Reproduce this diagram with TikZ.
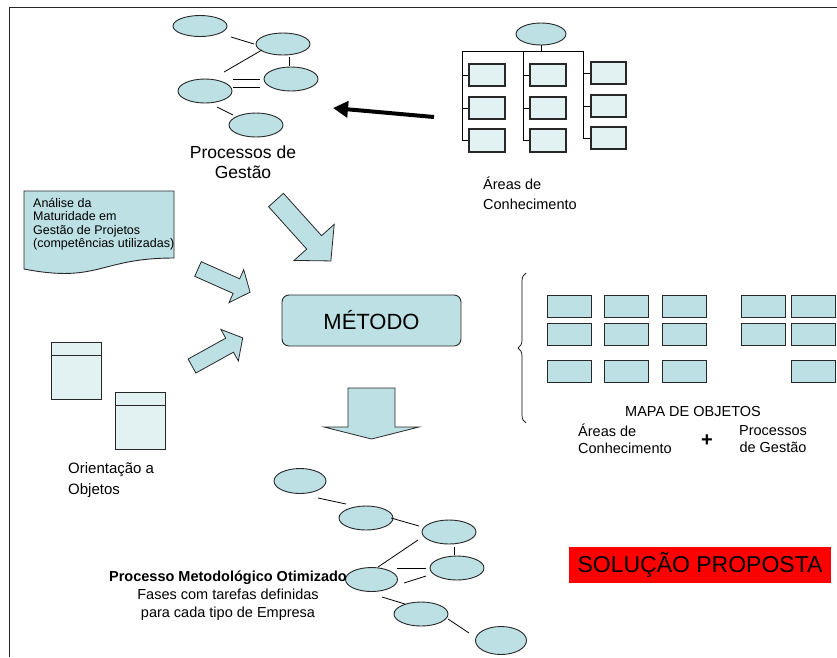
\documentclass[tikz,border=0pt]{standalone}
\usepackage{fontspec}
\setmainfont{Liberation Sans}
\usetikzlibrary{arrows.meta,calc,shapes.geometric,decorations.pathreplacing}
\definecolor{aqua}{RGB}{188,224,228}
\definecolor{pale}{RGB}{226,242,243}
\definecolor{edge}{RGB}{40,40,40}
\newcommand{\fs}[2]{\fontsize{#1}{#2}\selectfont}
% block arrow: x, y, angle, length, shaft half width, head half width, head length
\newcommand{\blockarrow}[7]{%
  \begin{scope}[shift={(#1,#2)}, rotate=#3]
    \draw[barrow] (0,-#5) -- ({#4-#7},-#5) -- ({#4-#7},-#6) -- (#4,0)
      -- ({#4-#7},#6) -- ({#4-#7},#5) -- (0,#5) -- cycle;
  \end{scope}}
\begin{document}
\begin{tikzpicture}[x=1pt,y=-1pt,
  bubble/.style={ellipse, draw=edge, line width=0.9pt, fill=aqua,
    minimum width=54pt, minimum height=24pt, inner sep=0pt},
  kbox/.style={rectangle, draw=edge, line width=1.2pt, fill=pale,
    minimum width=36pt, minimum height=22pt, inner sep=0pt},
  mbox/.style={rectangle, draw=edge, line width=0.9pt, fill=aqua,
    minimum width=44pt, minimum height=22pt, inner sep=0pt},
  classbox/.style={rectangle, draw=edge, line width=0.9pt, fill=pale,
    minimum width=50pt, minimum height=57pt, inner sep=0pt},
  link/.style={draw=black, line width=0.8pt},
  orgline/.style={draw=black, line width=0.9pt},
  barrow/.style={draw=edge, line width=0.8pt, fill=aqua, line join=miter},
  lbl/.style={inner sep=0pt, text=black},
]
\useasboundingbox (0,0) rectangle (837,657);

% page frame
\draw[line width=1.4pt, black!85] (9.5,657) -- (9.5,7.5) -- (837,7.5);

% management processes (top)
\node[bubble, minimum height=21pt] (pa) at (200,26) {};
\node[bubble, minimum height=22pt] (pb) at (283,44) {};
\node[bubble] (pc) at (291,79) {};
\node[bubble] (pd) at (205,91) {};
\node[bubble] (pe) at (256,125) {};
\draw[link] (231,37) -- (254,44);
\draw[link] (262,50) -- (224,72);
\draw[link] (289,57) -- (289,66);
\draw[link] (233,79) -- (260,79);
\draw[link] (233,87) -- (260,87);
\draw[link] (217,107) -- (233,115);
\node[lbl, align=center, font=\fs{17.5}{20}] (pglbl) at (243,162) {Processos de\\Gestão};

% knowledge areas tree
\node[bubble, minimum width=50pt, minimum height=22pt] (ka) at (541,34) {};
\node[kbox] (k11) at (487,75) {};
\node[kbox] (k12) at (487,108) {};
\node[kbox, minimum height=23pt] (k13) at (487,140.5) {};
\node[kbox] (k21) at (548,75) {};
\node[kbox] (k22) at (548,108) {};
\node[kbox, minimum height=23pt] (k23) at (548,140.5) {};
\node[kbox, minimum width=35pt] (k31) at (608.5,73) {};
\node[kbox, minimum width=35pt] (k32) at (608.5,106) {};
\node[kbox, minimum width=35pt] (k33) at (608.5,138) {};
\coordinate (c1) at (462,51);
\coordinate (c2) at (523,51);
\coordinate (c3) at (583,51);
\draw[orgline] (ka.south) -- (ka.south |- c1);
\draw[orgline] (c1) -- (c3);
\draw[orgline] (c1) |- (k13.west);
\draw[orgline] (c2) |- (k23.west);
\draw[orgline] (c3) |- (k33.west);
\draw[orgline] (k11.west) -- (k11.west -| c1);
\draw[orgline] (k12.west) -- (k12.west -| c1);
\draw[orgline] (k21.west) -- (k21.west -| c2);
\draw[orgline] (k22.west) -- (k22.west -| c2);
\draw[orgline] (k31.west) -- (k31.west -| c3);
\draw[orgline] (k32.west) -- (k32.west -| c3);
\node[lbl, align=left, anchor=west, font=\fs{14.5}{20}] (aclbl) at (483,193) {Áreas de\\Conhecimento};

% black arrow from the tree to the processes
\coordinate (bt) at (434,117);
\coordinate (bh) at (333,108);
\draw[line width=4pt, -{Triangle[length=15pt,width=16pt]}] (bt) -- (bh);

% maturity analysis document
\draw[fill=aqua, draw=edge, line width=0.9pt] (24,191) -- (174,191) -- (174,258)
  .. controls (99,258) and (99,283.5) .. (24,269) -- cycle;
\node[lbl, align=left, anchor=west, font=\fs{12.5}{13.5}] (anl) at (33,224)
  {Análise da\\Maturidade em\\Gestão de Projetos\\(competências utilizadas)};

% object orientation
\node[classbox] (oo1) at (76,370.5) {};
\draw[line width=0.9pt, edge] ($(oo1.north west)+(0,14)$) -- ($(oo1.north east)+(0,14)$);
\node[classbox] (oo2) at (140,420.5) {};
\draw[line width=0.9pt, edge] ($(oo2.north west)+(0,14)$) -- ($(oo2.north east)+(0,14)$);
\node[lbl, align=left, anchor=west, font=\fs{15}{21}] (oolbl) at (68,480.5) {Orientação a\\Objetos};

% block arrows into and out of the method
\blockarrow{276}{200}{-48}{82}{10}{27}{25}
\blockarrow{198}{269}{-24}{57}{8}{18}{15}
\blockarrow{192}{366}{29}{58}{8}{18}{15}
\blockarrow{371.5}{388}{-90}{51}{23.5}{47.5}{12}

% method
\node[rounded corners=7pt, draw=edge, line width=0.9pt, fill=aqua,
  minimum width=179pt, minimum height=51pt, inner sep=0pt] (met) at (371.5,320.5) {\fs{22}{26}MÉTODO};

% object map
\draw[line width=0.7pt, decorate, decoration={brace, amplitude=8pt}] (526,423) -- (526,273);
\foreach \cx [count=\i] in {569,626.5,684}{
  \node[mbox] (m\i a) at (\cx,306) {};
  \node[mbox] (m\i b) at (\cx,334.5) {};
  \node[mbox] (m\i c) at (\cx,371) {};
}
\node[mbox] (m4a) at (763,306) {};
\node[mbox] (m4b) at (763,334.5) {};
\node[mbox] (m5a) at (813,306) {};
\node[mbox] (m5b) at (813,334.5) {};
\node[mbox] (m5c) at (813,371) {};
\node[lbl, font=\fs{14.5}{17}] (mapa) at (693,411) {MAPA DE OBJETOS};
\node[lbl, align=left, anchor=west, font=\fs{14.5}{17}] (ma) at (578,439) {Áreas de\\Conhecimento};
\node[lbl, font=\bfseries\fs{20}{20}] (plus) at (707,441) {+};
\node[lbl, align=center, font=\fs{14.5}{17}] (mp) at (773,439) {Processos\\de Gestão};

% optimised process (bottom)
\node[bubble, minimum width=52pt, minimum height=25pt] (q1) at (300,481) {};
\node[bubble] (q2) at (366,518) {};
\node[bubble] (q3) at (449,532) {};
\node[bubble] (q4) at (457,568) {};
\node[bubble, minimum width=52pt] (q5) at (371.5,579.5) {};
\node[bubble] (q6) at (421,614) {};
\node[bubble, minimum width=51pt, minimum height=28pt] (q7) at (501,640.5) {};
\draw[link] (318,498) -- (346,504);
\draw[link] (391,518) -- (419,526);
\draw[link] (378,567) -- (418,540);
\draw[link] (397,568) -- (426,568);
\draw[link] (404,583) -- (426,576);
\draw[link] (454,547) -- (454,555);
\draw[link] (382,597) -- (405,604);
\draw[link] (448,619) -- (469,633);
\node[lbl, align=center, font=\fs{14.5}{18}] (pmo) at (228,596)
  {\textbf{Processo Metodológico Otimizado}\\Fases com tarefas definidas\\para cada tipo de Empresa};

% proposed solution
\node[fill=red, minimum width=262pt, minimum height=36pt, inner sep=0pt] (sol) at (700,565)
  {\fs{23}{27}SOLUÇÃO PROPOSTA};
\end{tikzpicture}
\end{document}
